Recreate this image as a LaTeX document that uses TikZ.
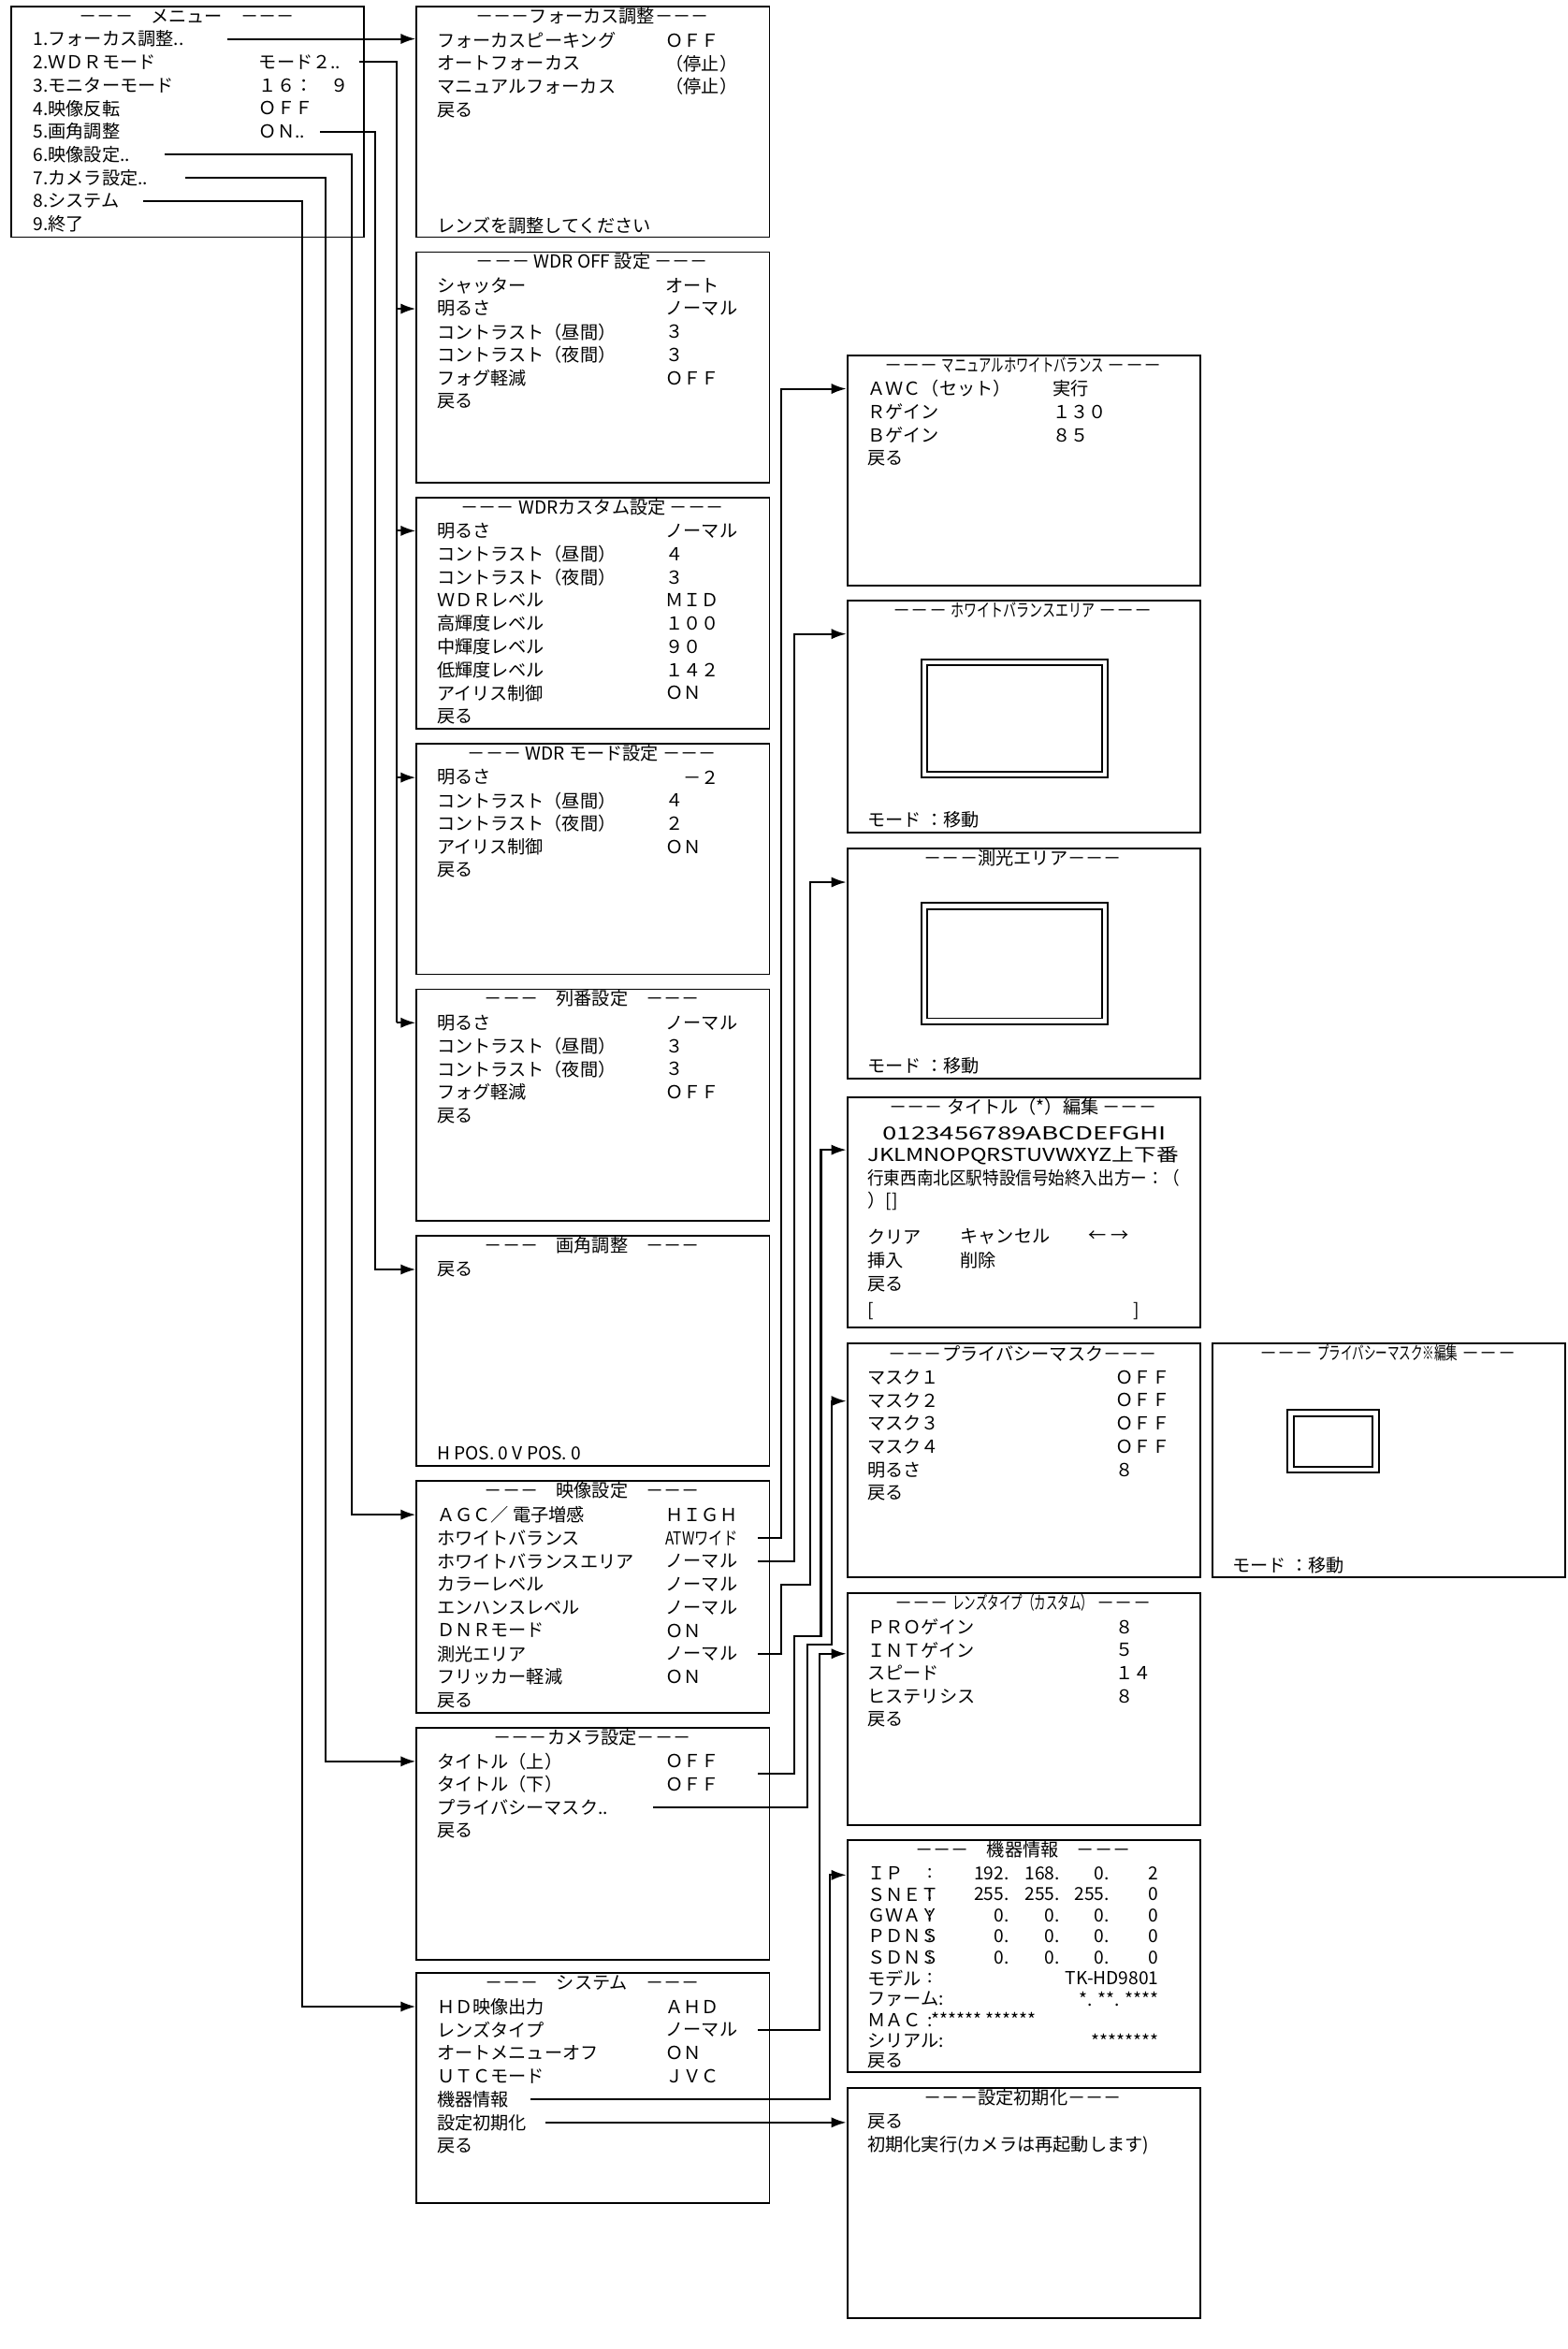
\documentclass[tikz,border=0pt]{standalone}
\usepackage{fontspec}
\setmainfont{Noto Sans CJK JP}
\usetikzlibrary{arrows.meta}
\newcommand\rw[4]{\node[txt] at (#1,#2+23+15.5*#3) {#4};}
\newcommand\bx[3]{\node[boxs,minimum width=236pt,minimum height=#3,anchor=north west] (#1) at (#2) {};}
\newcommand\fitw[2]{\resizebox{#1}{\height}{#2}}
\begin{document}
\begin{tikzpicture}[x=1pt,y=-1pt,
  txt/.style={anchor=west,inner sep=0pt,font=\fontsize{12}{14}\selectfont},
  ttl/.style={anchor=center,inner sep=0pt,font=\fontsize{12}{14}\selectfont},
  boxs/.style={draw,line width=1.2pt,inner sep=0pt},
  ln/.style={line width=1.3pt},
  arr/.style={line width=1.3pt,-{Latex[length=10pt,width=7pt]}}]
\useasboundingbox (0,0) rectangle (1048,1571);
% ---------- menu
\bx{menu}{7,4}{154pt}
\node[ttl] (menut) at (125,11) {－－－　メニュー　－－－};
\foreach \t [count=\k from 0] in {1.フォーカス調整..,2.ＷＤＲモード,3.モニターモード,4.映像反転,5.画角調整,6.映像設定..,7.カメラ設定..,8.システム,9.終了}
  \node[txt] at (22,26+15.5*\k) {\t};
\node[txt] at (173,41.5) {モード２..};
\node[txt] at (173,57) {１６：　９};
\node[txt] at (173,72.5) {ＯＦＦ};
\node[txt] at (173,88) {ＯＮ..};
% ---------- column 2
\bx{b1}{278,4}{154pt}
\node[ttl] at (396,11) {－－－フォーカス調整－－－};
\rw{292}{4}{0}{フォーカスピーキング}\rw{445}{4}{0}{ＯＦＦ}
\rw{292}{4}{1}{オートフォーカス}\rw{445}{4}{1}{（停止）}
\rw{292}{4}{2}{マニュアルフォーカス}\rw{445}{4}{2}{（停止）}
\rw{292}{4}{3}{戻る}
\node[txt] at (292,151) {レンズを調整してください};

\bx{b2}{278,168}{154pt}
\node[ttl] at (396,175) {－－－ WDR OFF 設定 －－－};
\rw{292}{168}{0}{シャッター}\rw{445}{168}{0}{オート}
\rw{292}{168}{1}{明るさ}\rw{445}{168}{1}{ノーマル}
\rw{292}{168}{2}{コントラスト（昼間）}\rw{445}{168}{2}{３}
\rw{292}{168}{3}{コントラスト（夜間）}\rw{445}{168}{3}{３}
\rw{292}{168}{4}{フォグ軽減}\rw{445}{168}{4}{ＯＦＦ}
\rw{292}{168}{5}{戻る}

\bx{b3}{278,332}{155pt}
\node[ttl] at (396,339) {－－－ WDRカスタム設定 －－－};
\rw{292}{332}{0}{明るさ}\rw{445}{332}{0}{ノーマル}
\rw{292}{332}{1}{コントラスト（昼間）}\rw{445}{332}{1}{４}
\rw{292}{332}{2}{コントラスト（夜間）}\rw{445}{332}{2}{３}
\rw{292}{332}{3}{ＷＤＲレベル}\rw{445}{332}{3}{ＭＩＤ}
\rw{292}{332}{4}{高輝度レベル}\rw{445}{332}{4}{１００}
\rw{292}{332}{5}{中輝度レベル}\rw{445}{332}{5}{９０}
\rw{292}{332}{6}{低輝度レベル}\rw{445}{332}{6}{１４２}
\rw{292}{332}{7}{アイリス制御}\rw{445}{332}{7}{ＯＮ}
\rw{292}{332}{8}{戻る}

\bx{b4}{278,497}{154pt}
\node[ttl] at (396,504) {－－－ WDR モード設定 －－－};
\rw{292}{497}{0}{明るさ}\rw{445}{497}{0}{　－２}
\rw{292}{497}{1}{コントラスト（昼間）}\rw{445}{497}{1}{４}
\rw{292}{497}{2}{コントラスト（夜間）}\rw{445}{497}{2}{２}
\rw{292}{497}{3}{アイリス制御}\rw{445}{497}{3}{ＯＮ}
\rw{292}{497}{4}{戻る}

\bx{b5}{278,661}{155pt}
\node[ttl] at (396,668) {－－－　列番設定　－－－};
\rw{292}{661}{0}{明るさ}\rw{445}{661}{0}{ノーマル}
\rw{292}{661}{1}{コントラスト（昼間）}\rw{445}{661}{1}{３}
\rw{292}{661}{2}{コントラスト（夜間）}\rw{445}{661}{2}{３}
\rw{292}{661}{3}{フォグ軽減}\rw{445}{661}{3}{ＯＦＦ}
\rw{292}{661}{4}{戻る}

\bx{b6}{278,826}{154pt}
\node[ttl] at (396,833) {－－－　画角調整　－－－};
\rw{292}{826}{0}{戻る}
\node[txt] at (292,972) {H POS.  0    V POS.  0};

\bx{b7}{278,990}{155pt}
\node[ttl] at (396,997) {－－－　映像設定　－－－};
\rw{292}{990}{0}{ＡＧＣ／ 電子増感}\rw{445}{990}{0}{ＨＩＧＨ}
\rw{292}{990}{1}{ホワイトバランス}\rw{445}{990}{1}{\fitw{48pt}{ATWワイド}}
\rw{292}{990}{2}{ホワイトバランスエリア}\rw{445}{990}{2}{ノーマル}
\rw{292}{990}{3}{カラーレベル}\rw{445}{990}{3}{ノーマル}
\rw{292}{990}{4}{エンハンスレベル}\rw{445}{990}{4}{ノーマル}
\rw{292}{990}{5}{ＤＮＲモード}\rw{445}{990}{5}{ＯＮ}
\rw{292}{990}{6}{測光エリア}\rw{445}{990}{6}{ノーマル}
\rw{292}{990}{7}{フリッカー軽減}\rw{445}{990}{7}{ＯＮ}
\rw{292}{990}{8}{戻る}

\bx{b8}{278,1155}{155pt}
\node[ttl] at (396,1162) {－－－カメラ設定－－－};
\rw{292}{1155}{0}{タイトル（上）}\rw{445}{1155}{0}{ＯＦＦ}
\rw{292}{1155}{1}{タイトル（下）}\rw{445}{1155}{1}{ＯＦＦ}
\rw{292}{1155}{2}{プライバシーマスク..}
\rw{292}{1155}{3}{戻る}

\bx{b9}{278,1319}{154pt}
\node[ttl] at (396,1326) {－－－　システム　－－－};
\rw{292}{1319}{0}{ＨＤ映像出力}\rw{445}{1319}{0}{ＡＨＤ}
\rw{292}{1319}{1}{レンズタイプ}\rw{445}{1319}{1}{ノーマル}
\rw{292}{1319}{2}{オートメニューオフ}\rw{445}{1319}{2}{ＯＮ}
\rw{292}{1319}{3}{ＵＴＣモード}\rw{445}{1319}{3}{ＪＶＣ}
\rw{292}{1319}{4}{機器情報}
\rw{292}{1319}{5}{設定初期化}
\rw{292}{1319}{6}{戻る}
% ---------- column 3
\bx{c1}{566,237}{154pt}
\node[ttl] at (684,244) {－－－ \fitw{108pt}{マニュアルホワイトバランス} －－－};
\rw{580}{237}{0}{ＡＷＣ（セット）}\rw{704}{237}{0}{実行}
\rw{580}{237}{1}{Ｒゲイン}\rw{704}{237}{1}{１３０}
\rw{580}{237}{2}{Ｂゲイン}\rw{704}{237}{2}{８５}
\rw{580}{237}{3}{戻る}

\bx{c2}{566,401}{155pt}
\node[ttl] at (684,408) {－－－ \fitw{96pt}{ホワイトバランスエリア} －－－};
\draw[line width=1.2pt] (616,441) rectangle (741,520);
\draw[line width=1.2pt] (620,445) rectangle (737,516);
\node[txt] at (580,548) {モード ：移動};

\bx{c3}{566,567}{154pt}
\node[ttl] at (684,574) {－－－測光エリア－－－};
\draw[line width=1.2pt] (616,604) rectangle (741,685);
\draw[line width=1.2pt] (620,608) rectangle (737,681);
\node[txt] at (580,713) {モード ：移動};

\bx{c4}{566,733}{154pt}
\node[ttl] at (684,740) {－－－ タイトル（*）編集 －－－};
\node[txt] at (590,758) {\fitw{190pt}{0123456789ABCDEFGHI}};
\node[txt] at (580,773) {\fitw{208pt}{JKLMNOPQRSTUVWXYZ上下番}};
\node[txt] at (580,788) {\fitw{209pt}{行東西南北区駅特設信号始終入出方ー：（}};
\node[txt] at (580,803) {）[]};
\node[txt] at (580,827) {クリア};\node[txt] at (642,827) {キャンセル};\node[txt] at (728,827) {← →};
\node[txt] at (580,843) {挿入};\node[txt] at (642,843) {削除};
\node[txt] at (580,859) {戻る};
\node[txt] at (580,877) {[};\node[txt] at (758,877) {]};

\bx{c5}{566,898}{156pt}
\node[ttl] at (684,905) {－－－プライバシーマスク－－－};
\rw{580}{898}{0}{マスク１}\rw{746}{898}{0}{ＯＦＦ}
\rw{580}{898}{1}{マスク２}\rw{746}{898}{1}{ＯＦＦ}
\rw{580}{898}{2}{マスク３}\rw{746}{898}{2}{ＯＦＦ}
\rw{580}{898}{3}{マスク４}\rw{746}{898}{3}{ＯＦＦ}
\rw{580}{898}{4}{明るさ}\rw{746}{898}{4}{８}
\rw{580}{898}{5}{戻る}

\bx{p1}{810,898}{156pt}
\node[ttl] at (928,905) {－－－ \fitw{94pt}{プライバシーマスク※編集} －－－};
\draw[line width=1.2pt] (861,943) rectangle (922,985);
\draw[line width=1.2pt] (865,947) rectangle (918,981);
\node[txt] at (824,1047) {モード ：移動};

\bx{c6}{566,1065}{155pt}
\node[ttl] at (684,1072) {－－－ \fitw{94pt}{レンズタイプ（カスタム）} －－－};
\rw{580}{1065}{0}{ＰＲＯゲイン}\rw{746}{1065}{0}{８}
\rw{580}{1065}{1}{ＩＮＴゲイン}\rw{746}{1065}{1}{５}
\rw{580}{1065}{2}{スピード}\rw{746}{1065}{2}{１４}
\rw{580}{1065}{3}{ヒステリシス}\rw{746}{1065}{3}{８}
\rw{580}{1065}{4}{戻る}

\bx{c7}{566,1230}{155pt}
\node[ttl] at (684,1237) {－－－　機器情報　－－－};
\foreach \lab/\a/\b/\c/\d [count=\k from 0] in {ＩＰ/192./168./0./2,ＳＮＥＴ/255./255./255./0,ＧＷＡＹ/0./0./0./0,ＰＤＮＳ/0./0./0./0,ＳＤＮＳ/0./0./0./0}{
  \node[txt] at (580,1253+14*\k) {\lab};
  \node[txt] at (620,1253+14*\k) {:};
  \node[txt,anchor=east] at (675,1253+14*\k) {\a};
  \node[txt,anchor=east] at (709,1253+14*\k) {\b};
  \node[txt,anchor=east] at (742,1253+14*\k) {\c};
  \node[txt,anchor=east] at (775,1253+14*\k) {\d};
}
\node[txt] at (580,1323) {モデル};\node[txt] at (620,1323) {:};\node[txt,anchor=east] at (775,1323) {TK-HD9801};
\node[txt] at (580,1337) {ファーム:};\node[txt,anchor=east] at (775,1337) {*.  **.  ****};
\node[txt] at (580,1351) {ＭＡＣ};\node[txt] at (620,1351) {:******  ******};
\node[txt] at (580,1365) {シリアル:};\node[txt,anchor=east] at (775,1365) {********};
\node[txt] at (580,1378) {戻る};

\bx{c8}{566,1396}{154pt}
\node[ttl] at (684,1403) {－－－設定初期化－－－};
\rw{580}{1396}{0}{戻る}
\rw{580}{1396}{1}{初期化実行(カメラは再起動します)}
% ---------- connectors
\draw[arr] (152,26) -- (b1.west |- 0,26);
\draw[ln] (240,41.5) -- (265,41.5) -- (265,684);
\foreach \yy/\nn in {206.5/b2,355/b3,520/b4,684/b5}
  \draw[arr] (265,\yy) -- (\nn.west |- 0,\yy);
\draw[arr] (214,88) -- (251,88) -- (251,849) -- (b6.west |- 0,849);
\draw[arr] (110,103.5) -- (235,103.5) -- (235,1013) -- (b7.west |- 0,1013);
\draw[arr] (124,119) -- (218,119) -- (218,1178) -- (b8.west |- 0,1178);
\draw[arr] (96,134.5) -- (202,134.5) -- (202,1342) -- (b9.west |- 0,1342);
\draw[arr] (507,1028.5) -- (522.5,1028.5) -- (522.5,260) -- (c1.west |- 0,260);
\draw[arr] (507,1044) -- (531,1044) -- (531,424) -- (c2.west |- 0,424);
\draw[arr] (507,1106) -- (522.5,1106) -- (522.5,1060) -- (542,1060) -- (542,590) -- (c3.west |- 0,590);
\draw[arr] (507,1186) -- (531,1186) -- (531,1094) -- (549,1094) -- (549,769) -- (c4.west |- 0,769);
\draw[arr] (437,1209) -- (540,1209) -- (540,1100) -- (556,1100) -- (556,937) -- (c5.west |- 0,937);
\draw[arr] (507,1357.5) -- (548,1357.5) -- (548,1106) -- (c6.west |- 0,1106);
\draw[arr] (355,1404) -- (555,1404) -- (555,1254) -- (c7.west |- 0,1254);
\draw[arr] (365,1419.5) -- (c8.west |- 0,1419.5);
\end{tikzpicture}
\end{document}
